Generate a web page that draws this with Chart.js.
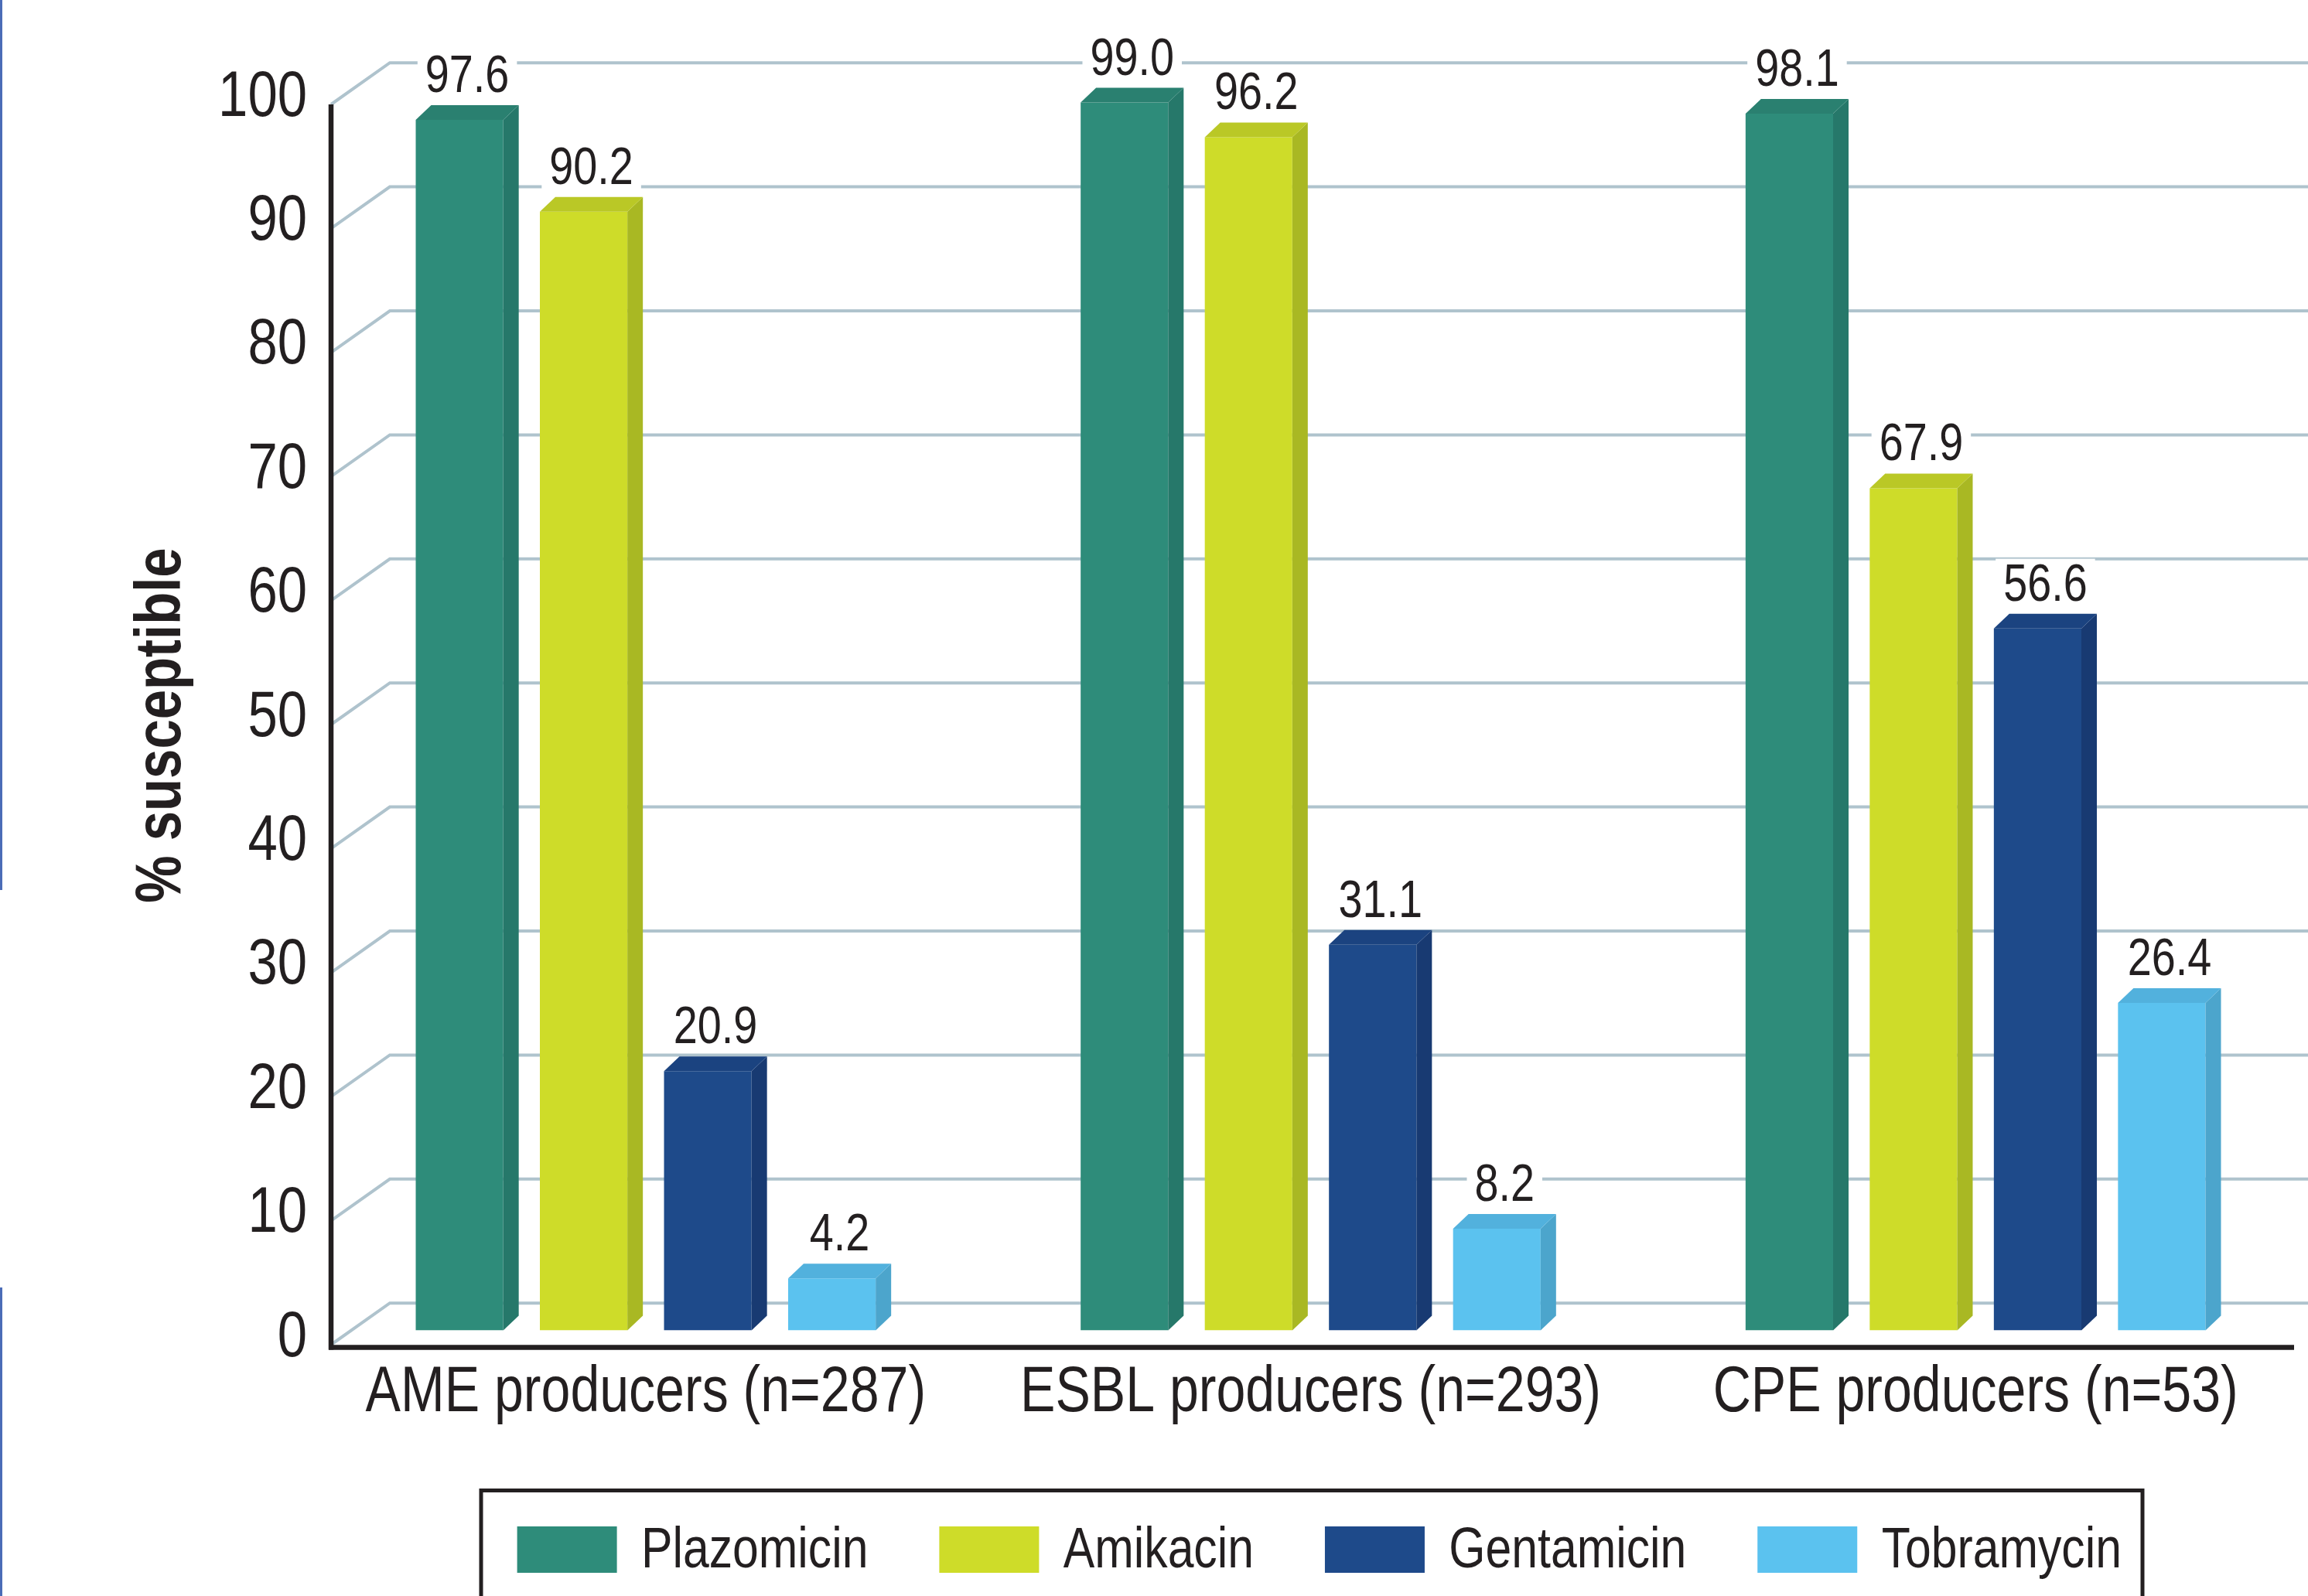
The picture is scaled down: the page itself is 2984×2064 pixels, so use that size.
<!DOCTYPE html>
<html>
<head>
<meta charset="utf-8">
<script src="https://cdn.jsdelivr.net/npm/chart.js@4.4.1/dist/chart.umd.min.js"></script>
<style>
html,body{margin:0;padding:0;background:#ffffff;overflow:hidden}
canvas{display:block}
</style>
</head>
<body>
<canvas id="c" width="2984" height="2064" style="width:2984px;height:2064px"></canvas>
<script>
// ---------------- data ----------------
const categories = ['AME producers (n=287)', 'ESBL producers (n=293)', 'CPE producers (n=53)'];
const seriesNames = ['Plazomicin', 'Amikacin', 'Gentamicin', 'Tobramycin'];
const plazomicin = [97.6, 99.0, 98.1];
const amikacin   = [90.2, 96.2, 67.9];
const gentamicin = [20.9, 31.1, 56.6];
const tobramycin = [4.2, 8.2, 26.4];
const yTickValues = [0, 10, 20, 30, 40, 50, 60, 70, 80, 90, 100];
const yTitle = '% susceptible';

// ---------------- styles ----------------
const frontColors = ['#2E8C7A', '#CEDC29', '#1E4A8A', '#5BC2EF'];
const sideColors  = ['#26786A', '#A9B823', '#183A72', '#4CA5CC'];
const topColors   = ['#2A8070', '#BAC826', '#1B4380', '#52B1DD'];
const textColor = '#231F20';
const gridColor = '#AFC3CD';

function hasFont(name) {
  const c = document.createElement('canvas').getContext('2d');
  const s = 'AME producers (n=287) Plazomicin 0123456789';
  c.font = '100px monospace';
  const a = c.measureText(s).width;
  c.font = '100px "' + name + '", monospace';
  const b = c.measureText(s).width;
  return Math.abs(a - b) > 1;
}
const NARROW = hasFont('Liberation Sans Narrow');
const FAMILY = NARROW ? '"Liberation Sans Narrow", "Liberation Sans", Arial, sans-serif'
                      : '"Liberation Sans", Arial, sans-serif';
const SQUEEZE = NARROW ? 1 : 0.82;

const canvas = document.getElementById('c');
const ctx = canvas.getContext('2d');
if (SQUEEZE !== 1) {
  const origFill = ctx.fillText.bind(ctx);
  ctx.fillText = function (text, x, y, maxWidth) {
    this.save();
    this.translate(x, y);
    this.scale(SQUEEZE, 1);
    if (maxWidth === undefined) origFill(text, 0, 0);
    else origFill(text, 0, 0, maxWidth / SQUEEZE);
    this.restore();
  };
}

// geometry of the pseudo-3D look (pixels)
const DX = 20, DY = 19;          // bar depth
const WALL_DX = 76;              // back wall offset
const FRONT_OFF = 18.5;          // front edge of floor/gridline relative to bar scale
const BACK_OFF = 35.3;           // back wall line relative to bar scale
const AXIS_SHIFT = 23;           // axis line relative to chart area left

const threeD = {
  id: 'threeD',
  beforeDatasetsDraw(chart) {
    const c = chart.ctx;
    const ys = chart.scales.y;
    const ax = chart.chartArea.left + AXIS_SHIFT;
    c.save();
    // left edge artefact line from source figure
    c.fillStyle = '#4B6CB7';
    c.fillRect(0, 0, 3, 1151);
    c.fillRect(0, 1665, 3, 399);
    c.strokeStyle = gridColor;
    c.lineWidth = 4;
    c.lineJoin = 'miter';
    yTickValues.forEach(v => {
      const yb = ys.getPixelForValue(v);
      c.beginPath();
      c.moveTo(ax, yb + FRONT_OFF);
      c.lineTo(ax + WALL_DX, yb - BACK_OFF);
      c.lineTo(chart.width, yb - BACK_OFF);
      c.stroke();
    });
    c.restore();
  },
  afterDatasetsDraw(chart) {
    const c = chart.ctx;
    c.save();
    chart.data.datasets.forEach((ds, i) => {
      const meta = chart.getDatasetMeta(i);
      meta.data.forEach((bar, j) => {
        const L = bar.x - bar.width / 2, R = bar.x + bar.width / 2;
        const T = bar.y, B = bar.base;
        // side face
        c.fillStyle = sideColors[i];
        c.beginPath();
        c.moveTo(R, T); c.lineTo(R + DX, T - DY); c.lineTo(R + DX, B - DY); c.lineTo(R, B);
        c.closePath(); c.fill();
        // top face
        c.fillStyle = topColors[i];
        c.beginPath();
        c.moveTo(L, T); c.lineTo(L + DX, T - DY); c.lineTo(R + DX, T - DY); c.lineTo(R, T);
        c.closePath(); c.fill();
      });
    });
    // value labels
    c.font = '68px ' + FAMILY;
    c.textAlign = 'center';
    c.textBaseline = 'alphabetic';
    chart.data.datasets.forEach((ds, i) => {
      const meta = chart.getDatasetMeta(i);
      meta.data.forEach((bar, j) => {
        const txt = Number(ds.data[j]).toFixed(1);
        const cx = bar.x + DX / 2;
        const by = bar.y - 36;
        const w = c.measureText(txt).width * SQUEEZE;
        c.fillStyle = '#ffffff';
        c.fillRect(cx - w / 2 - 10, by - 54, w + 20, 62);
        c.fillStyle = textColor;
        c.fillText(txt, cx, by);
      });
    });
    c.restore();
  },
  afterDraw(chart) {
    const c = chart.ctx;
    const ys = chart.scales.y;
    const ax = chart.chartArea.left + AXIS_SHIFT;
    const yTop = ys.getPixelForValue(100) + FRONT_OFF;
    const yBot = ys.getPixelForValue(0) + FRONT_OFF + 3.5;
    c.save();
    c.strokeStyle = textColor;
    c.lineWidth = 6.5;
    c.lineCap = 'butt';
    c.beginPath();
    c.moveTo(ax, yTop);
    c.lineTo(ax, yBot + 3);
    c.stroke();
    c.beginPath();
    c.moveTo(ax - 3, yBot);
    c.lineTo(chart.width - 18, yBot);
    c.stroke();

    // y axis title (rotated)
    c.save();
    c.translate(233, 938);
    c.rotate(-Math.PI / 2);
    c.font = 'bold 84px ' + FAMILY;
    c.textAlign = 'center';
    c.textBaseline = 'alphabetic';
    c.fillStyle = textColor;
    c.fillText(yTitle, 0, 0);
    c.restore();

    // legend (boxed, below the axis)
    const legTop = 1927.5, legLeft = 622, legRight = 2770;
    const swW = 129, swH = 60, swY = 1974;
    c.font = '74px ' + FAMILY;
    c.textAlign = 'left';
    c.textBaseline = 'alphabetic';
    let x = 668.6;
    chart.data.datasets.forEach((ds, i) => {
      c.fillStyle = frontColors[i];
      c.fillRect(x, swY, swW, swH);
      c.fillStyle = textColor;
      const tx = x + 160.4;
      c.fillText(ds.label, tx, 2027);
      x = tx + c.measureText(ds.label).width * SQUEEZE + 92;
    });
    c.strokeStyle = textColor;
    c.lineWidth = 5;
    c.beginPath();
    c.moveTo(legLeft, chart.height + 10);
    c.lineTo(legLeft, legTop);
    c.lineTo(legRight, legTop);
    c.lineTo(legRight, chart.height + 10);
    c.stroke();
    c.restore();
  }
};

const seriesData = [plazomicin, amikacin, gentamicin, tobramycin];

new Chart(ctx, {
  type: 'bar',
  data: {
    labels: categories,
    datasets: seriesNames.map((n, i) => ({
      label: n,
      data: seriesData[i],
      backgroundColor: frontColors[i],
      borderWidth: 0,
      categoryPercentage: 0.7468,
      barPercentage: 0.705
    }))
  },
  options: {
    responsive: false,
    animation: false,
    devicePixelRatio: 1,
    layout: { padding: { top: 116.5, left: 0, right: -4, bottom: 0 } },
    plugins: { legend: { display: false }, tooltip: { enabled: false } },
    scales: {
      x: {
        grid: { display: false, drawTicks: false },
        border: { display: false },
        ticks: {
          font: { family: FAMILY, size: 83 },
          color: textColor,
          padding: 32,
          maxRotation: 0,
          minRotation: 0,
          autoSkip: false
        },
        afterFit(s) { s.height = 2064 - 1720.5; s.paddingLeft = 0; s.paddingRight = 0; }
      },
      y: {
        min: 0,
        max: 100,
        grid: { display: false, drawTicks: false },
        border: { display: false },
        ticks: {
          stepSize: 10,
          font: { family: FAMILY, size: 84 },
          color: textColor,
          padding: 8,
          labelOffset: 10
        },
        afterFit(s) { s.width = 405; s.paddingTop = 0; s.paddingBottom = 0; }
      }
    }
  },
  plugins: [threeD]
});
</script>
</body>
</html>
